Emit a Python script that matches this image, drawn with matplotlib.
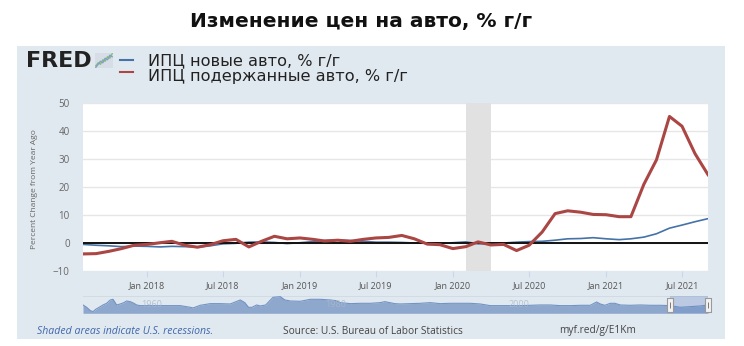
import matplotlib
matplotlib.use("Agg")
import matplotlib.pyplot as plt
import matplotlib.dates as mdates
from matplotlib.patches import Rectangle
from matplotlib.lines import Line2D
from matplotlib.path import Path
import pandas as pd
import numpy as np

# ---------------- data ----------------
start_month = "2017-08-01"
used_cars = [-3.9, -3.8, -3.0, -2.0, -0.8, -0.5, 0.1, 0.6, -0.8, -1.5,
             -0.6, 0.8, 1.3, -1.4, 0.6, 2.4, 1.5, 1.8, 1.3, 0.7,
             1.0, 0.6, 1.3, 1.8, 2.0, 2.7, 1.5, -0.4, -0.6, -2.0,
             -1.3, 0.4, -0.7, -0.5, -2.7, -0.8, 3.9, 10.5, 11.5, 11.0,
             10.2, 10.1, 9.4, 9.4, 21.0, 29.7, 45.2, 41.7, 31.9, 24.4]
new_cars = [-0.5, -0.8, -1.0, -1.3, -1.1, -1.2, -1.4, -1.2, -1.3, -1.5,
            -1.0, -0.3, -0.1, 0.3, 0.4, 0.2, -0.2, 0.1, 0.5, 0.9,
            1.0, 0.9, 0.6, 0.3, 0.3, 0.2, 0.0, 0.0, -0.2, 0.1,
            0.4, -0.3, -0.3, 0.0, 0.3, 0.5, 0.6, 1.0, 1.5, 1.6,
            1.9, 1.5, 1.2, 1.5, 2.1, 3.3, 5.3, 6.4, 7.6, 8.7]
recession = ("2020-02-01", "2020-04-01")
y_ticks = [-10, 0, 10, 20, 30, 40, 50]
x_tick_dates = ["2018-01-01", "2018-07-01", "2019-01-01", "2019-07-01",
                "2020-01-01", "2020-07-01", "2021-01-01", "2021-07-01"]

title = "Изменение цен на авто, % г/г"
legend_labels = ["ИПЦ новые авто, % г/г", "ИПЦ подержанные авто, % г/г"]
y_label = "Percent Change from Year Ago"
footer_left = "Shaded areas indicate U.S. recessions."
footer_mid = "Source: U.S. Bureau of Labor Statistics"
footer_right = "myf.red/g/E1Km"

# navigator (full history, relative heights)
nav_years = [1953.0, 1953.4, 1953.8, 1954.1, 1954.4, 1954.9, 1955.2, 1955.6, 1956.0, 1956.3,
             1956.7, 1957.1, 1957.5, 1957.8, 1958.2, 1958.6, 1958.9, 1959.3, 1960.4, 1961.5,
             1962.6, 1963.7, 1964.8, 1965.1, 1965.9, 1967.0, 1968.1, 1969.2, 1970.3, 1970.8,
             1971.2, 1971.6, 1972.1, 1972.5, 1973.1, 1973.9, 1974.7, 1975.2, 1975.8, 1976.9,
             1978.0, 1979.1, 1980.2, 1980.8, 1981.3, 1982.4, 1983.5, 1984.6, 1985.7, 1986.2,
             1987.3, 1987.9, 1989.0, 1990.1, 1991.2, 1992.3, 1993.4, 1994.5, 1995.6, 1996.7,
             1997.8, 1998.9, 2000.0, 2001.1, 2002.2, 2003.3, 2004.4, 2005.5, 2006.6, 2007.7,
             2008.8, 2009.5, 2009.9, 2010.4, 2011.0, 2011.5, 2012.1, 2013.2, 2014.3, 2015.4,
             2016.5, 2017.6, 2018.7, 2019.8, 2020.9, 2021.75]
nav_values = [25, 18, 8, 5, 12, 20, 25, 30, 40, 42,
              25, 28, 32, 37, 35, 30, 25, 23, 23, 23,
              23, 23, 18, 16, 24, 29, 29, 28, 40, 32,
              18, 18, 25, 22, 25, 48, 50, 40, 37, 36,
              42, 42, 40, 38, 32, 29, 30, 30, 32, 35,
              29, 28, 29, 30, 32, 29, 30, 30, 30, 28,
              23, 23, 23, 23, 24, 25, 25, 23, 23, 24,
              24, 34, 28, 24, 30, 30, 25, 24, 25, 24,
              24, 23, 18, 20, 22, 25]
nav_labels = [(1960.5, "1960"), (1980.8, "1980"), (2001.0, "2000")]

# ---------------- figure ----------------
W, H = 744, 346
fig = plt.figure(figsize=(W / 100, H / 100), dpi=100)
fig.patch.set_facecolor("white")

def fx(x):
    return x / W

def fy(y):
    return 1 - y / H

PANEL = "#e1e9f0"
bg = fig.add_axes([fx(17), fy(339), fx(725) - fx(17), fy(46) - fy(339)], zorder=-5)
bg.set_facecolor(PANEL)
bg.set_xticks([]); bg.set_yticks([])
for s in bg.spines.values():
    s.set_visible(False)

fig.text(fx(361), fy(21), title, ha="center", va="center", fontsize=14.5,
         fontweight="bold", family=["DejaVu Sans"], color="#111111")

# FRED logo
fig.text(fx(26), fy(61), "FRED", ha="left", va="center", fontsize=16,
         fontweight="heavy", family="DejaVu Sans", color="#222222")
logo_ax = fig.add_axes([fx(95), fy(68), fx(113) - fx(95), fy(53) - fy(68)], zorder=2)
logo_ax.set_facecolor("#d6dde6")
logo_green = [1, 2, 1.5, 3, 2.5, 4, 3.5, 5]
logo_blue = [0.5, 1.5, 2.5, 2, 3.5, 3, 4.5, 4]
logo_ax.plot(logo_green, color="#8cbf6a", lw=1)
logo_ax.plot(logo_blue, color="#7fa0cc", lw=1)
logo_ax.set_xticks([]); logo_ax.set_yticks([])
for s in logo_ax.spines.values():
    s.set_visible(False)

BLUE = "#4572a7"
RED = "#aa4643"

# legend
fig.lines.append(Line2D([fx(120), fx(133)], [fy(60), fy(60)], transform=fig.transFigure,
                        color=BLUE, lw=1.5))
fig.lines.append(Line2D([fx(120), fx(133)], [fy(72), fy(72)], transform=fig.transFigure,
                        color=RED, lw=1.5))
fig.text(fx(148), fy(61), legend_labels[0], ha="left", va="center", fontsize=11.6,
         family="DejaVu Sans", color="#222222")
fig.text(fx(148), fy(77), legend_labels[1], ha="left", va="center", fontsize=11.6,
         family="DejaVu Sans", color="#222222")

# main axes
dates = pd.date_range(start_month, periods=len(used_cars), freq="MS")
ax = fig.add_axes([fx(83), fy(271), fx(708) - fx(83), fy(103) - fy(271)], zorder=1)
ax.set_facecolor("white")
ax.set_xlim(dates[0], dates[-1])
ax.set_ylim(y_ticks[0], y_ticks[-1])
for s in ax.spines.values():
    s.set_visible(False)
ax.set_yticks(y_ticks)
ax.yaxis.grid(True, color="#e6e6e6", lw=1)
ax.set_axisbelow(True)
ax.axvspan(pd.Timestamp(recession[0]), pd.Timestamp(recession[1]),
           color="#e1e1e1", lw=0, zorder=1)
ax.plot(dates, new_cars, color=BLUE, lw=1.2, zorder=3, solid_joinstyle="round")
ax.axhline(0, color="#111111", lw=1.4, zorder=4)
ax.plot(dates, used_cars, color=RED, lw=2.2, zorder=5, solid_joinstyle="round")

xt = pd.to_datetime(x_tick_dates)
ax.set_xticks(xt)
ax.set_xticklabels([d.strftime("%b %Y") for d in xt])
ax.tick_params(axis="x", length=4, width=0.8, color="#ccd6eb", pad=3,
               labelsize=6.5, labelcolor="#555555")
ax.tick_params(axis="y", length=0, pad=9.5, labelsize=7, labelcolor="#666666")
for lab in ax.get_xticklabels() + ax.get_yticklabels():
    lab.set_family(["Open Sans", "DejaVu Sans"])

fig.text(fx(35), fy(189), y_label, rotation=90, ha="center", va="center",
         fontsize=6, color="#666666", family=["Open Sans", "DejaVu Sans"])

# navigator
nav = fig.add_axes([fx(83), fy(313.3), fx(708) - fx(83), fy(295.7) - fy(313.3)], zorder=1)
nav.patch.set_alpha(0)
nav.set_xlim(nav_years[0], nav_years[-1])
nav.set_ylim(0, 52.8)
nav.fill_between(nav_years, nav_values, 0, color="#8ea8cd", lw=0, zorder=2)
nav.plot(nav_years, nav_values, color="#7393c4", lw=0.8, zorder=3)
nav.axhline(52.8, color="#d0d8e2", lw=1.2, zorder=1)
for s in nav.spines.values():
    s.set_visible(False)
nav.set_xticks([]); nav.set_yticks([])
for xv, txt in nav_labels:
    nav.text(xv, 26, txt, ha="center", va="center", fontsize=6.5,
             color="#a8b8cc", alpha=0.8, family=["Open Sans", "DejaVu Sans"], zorder=4)
d0 = dates[0].year + (dates[0].month - 1) / 12
d1 = dates[-1].year + (dates[-1].month) / 12
nav.axvspan(d0, d1, color="#6685c2", alpha=0.3, lw=0, zorder=4)
handle = Path([(-0.45, -1), (0.45, -1), (0.45, 1), (-0.45, 1), (-0.45, -1)])
for hx in (d0, d1):
    nav.plot([hx], [26], marker=handle, markersize=10, markerfacecolor="#f2f2f2",
             markeredgecolor="#999999", markeredgewidth=0.8, zorder=6, clip_on=False)
    nav.plot([hx], [26], marker="|", markersize=4, color="#666666",
             markeredgewidth=0.6, zorder=7, clip_on=False)

# footer
fig.text(fx(37), fy(331), footer_left, ha="left", va="center", fontsize=7.6,
         style="italic", color="#3f67ab", family=["Open Sans", "DejaVu Sans"])
fig.text(fx(283), fy(331), footer_mid, ha="left", va="center", fontsize=7.3,
         color="#444444", family=["Open Sans", "DejaVu Sans"])
fig.text(fx(559), fy(331), footer_right, ha="left", va="center", fontsize=7.3,
         color="#444444", family=["Open Sans", "DejaVu Sans"])

fig.savefig("out.png", dpi=100, facecolor="white")
